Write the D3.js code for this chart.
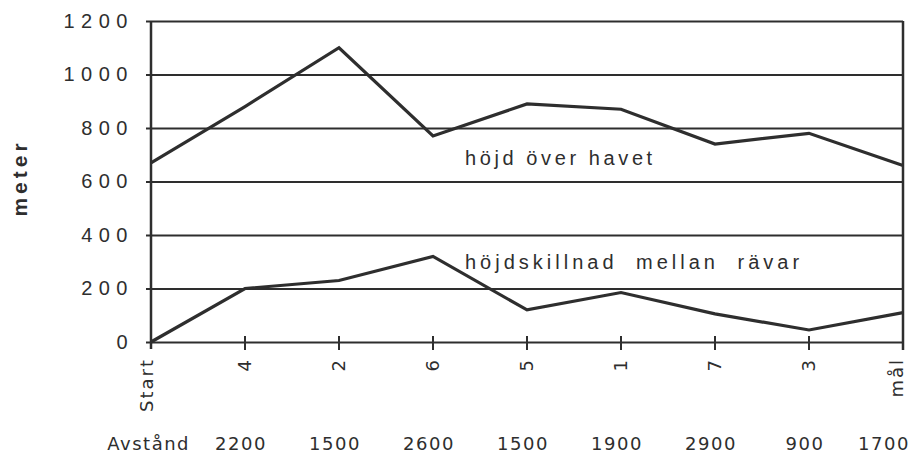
<!DOCTYPE html>
<html lang="sv">
<head>
<meta charset="utf-8">
<title>Höjdprofil</title>
<script src="https://cdn.jsdelivr.net/npm/d3@7"></script>
<style>
  body { margin: 0; background: #fff; }
  svg { display: block; }
</style>
</head>
<body>
<script>
var categories = ["Start", "4", "2", "6", "5", "1", "7", "3", "mål"];
var hojdOverHavet = [670, 880, 1100, 770, 890, 870, 740, 780, 660];
var hojdSkillnad = [0, 200, 230, 320, 120, 185, 105, 45, 110];
var avstand = ["2200", "1500", "2600", "1500", "1900", "2900", "900", "1700"];
var yTicks = [0, 200, 400, 600, 800, 1000, 1200];

var w = 910, h = 455;
var plotLeft = 151, plotRight = 903, plotTop = 21, plotBottom = 342;
var ink = "#2e2e2e";

var svg = d3.select("body").append("svg")
    .attr("width", w)
    .attr("height", h);

var x = d3.scalePoint().domain(categories).range([plotLeft, plotRight]);
var y = d3.scaleLinear().domain([0, 1200]).range([plotBottom, plotTop]);

// gridlines
svg.append("g")
    .attr("transform", "translate(" + (plotLeft - 5) + ",0)")
    .call(d3.axisLeft(y).tickValues(yTicks).tickSize(-(plotRight - plotLeft + 5)).tickFormat(""))
    .call(function(g) {
        g.select(".domain").remove();
        g.selectAll("line").attr("stroke", ink).attr("stroke-width", 2.2);
    });

// y labels
svg.append("g")
    .attr("transform", "translate(" + plotLeft + ",0)")
    .call(d3.axisLeft(y).tickValues(yTicks).tickSize(0).tickPadding(17).tickFormat(d3.format("d")))
    .call(function(g) {
        g.select(".domain").remove();
        g.selectAll("text")
            .attr("font-family", "Liberation Sans, Arial, sans-serif")
            .attr("font-size", "20px")
            .attr("letter-spacing", 6.5)
            .attr("fill", ink);
    });

// frame verticals
svg.append("line")
    .attr("x1", plotLeft).attr("x2", plotLeft)
    .attr("y1", y(1200)).attr("y2", plotBottom + 7)
    .attr("stroke", ink).attr("stroke-width", 2.5);
svg.append("line")
    .attr("x1", plotRight).attr("x2", plotRight)
    .attr("y1", y(1200)).attr("y2", plotBottom + 8)
    .attr("stroke", ink).attr("stroke-width", 2.5);

// x ticks crossing the axis
svg.selectAll(".xtick")
    .data(categories.slice(1, -1))
    .enter()
    .append("line")
    .attr("x1", function(d) { return x(d); })
    .attr("x2", function(d) { return x(d); })
    .attr("y1", plotBottom - 6)
    .attr("y2", plotBottom + 8)
    .attr("stroke", ink)
    .attr("stroke-width", 2);

// rotated category labels (end labels kept inside the frame)
var last = categories.length - 1;
svg.selectAll(".xlabel")
    .data(categories)
    .enter()
    .append("text")
    .attr("transform", function(d) {
        return "translate(" + x(d) + "," + (plotBottom + 16) + ") rotate(-90)";
    })
    .attr("dy", function(d, i) {
        if (i === 0) return "0.1em";
        if (i === last) return "0em";
        return "0.36em";
    })
    .attr("text-anchor", "end")
    .attr("font-family", "DejaVu Sans, Verdana, sans-serif")
    .attr("font-size", "18px")
    .attr("letter-spacing", 2)
    .attr("fill", ink)
    .text(function(d) { return d; });

// y axis title
svg.append("text")
    .attr("transform", "translate(27,178) rotate(-90)")
    .attr("text-anchor", "middle")
    .attr("font-family", "Liberation Sans, Arial, sans-serif")
    .attr("font-weight", "bold")
    .attr("font-size", "21px")
    .attr("letter-spacing", 4)
    .attr("fill", ink)
    .text("meter");

// lines
var line = d3.line()
    .x(function(d, i) { return x(categories[i]); })
    .y(function(d) { return y(d); });

[hojdOverHavet, hojdSkillnad].forEach(function(series) {
    svg.append("path")
        .datum(series)
        .attr("d", line)
        .attr("fill", "none")
        .attr("stroke", ink)
        .attr("stroke-width", 3.2)
        .attr("stroke-linejoin", "miter");
});

// series labels
svg.append("text")
    .attr("x", 465)
    .attr("y", 165)
    .attr("font-family", "Liberation Sans, Arial, sans-serif")
    .attr("font-size", "20px")
    .attr("letter-spacing", 3.6)
    .attr("fill", ink)
    .text("höjd över havet");

svg.append("text")
    .attr("x", 465)
    .attr("y", 269)
    .attr("font-family", "Liberation Sans, Arial, sans-serif")
    .attr("font-size", "20px")
    .attr("letter-spacing", 4)
    .attr("word-spacing", 9)
    .attr("fill", ink)
    .text("höjdskillnad mellan rävar");

// distance row
svg.append("text")
    .attr("x", 190)
    .attr("y", 450)
    .attr("text-anchor", "end")
    .attr("font-family", "DejaVu Sans, Verdana, sans-serif")
    .attr("font-size", "18px")
    .attr("letter-spacing", 1.5)
    .attr("fill", ink)
    .text("Avstånd");

svg.selectAll(".dist")
    .data(avstand)
    .enter()
    .append("text")
    .attr("x", function(d, i) { return Math.min(x(categories[i + 1]) - 4, w - 26); })
    .attr("y", 450)
    .attr("text-anchor", "middle")
    .attr("font-family", "DejaVu Sans, Verdana, sans-serif")
    .attr("font-size", "18px")
    .attr("letter-spacing", 1.5)
    .attr("fill", ink)
    .text(function(d) { return d; });
</script>
</body>
</html>
